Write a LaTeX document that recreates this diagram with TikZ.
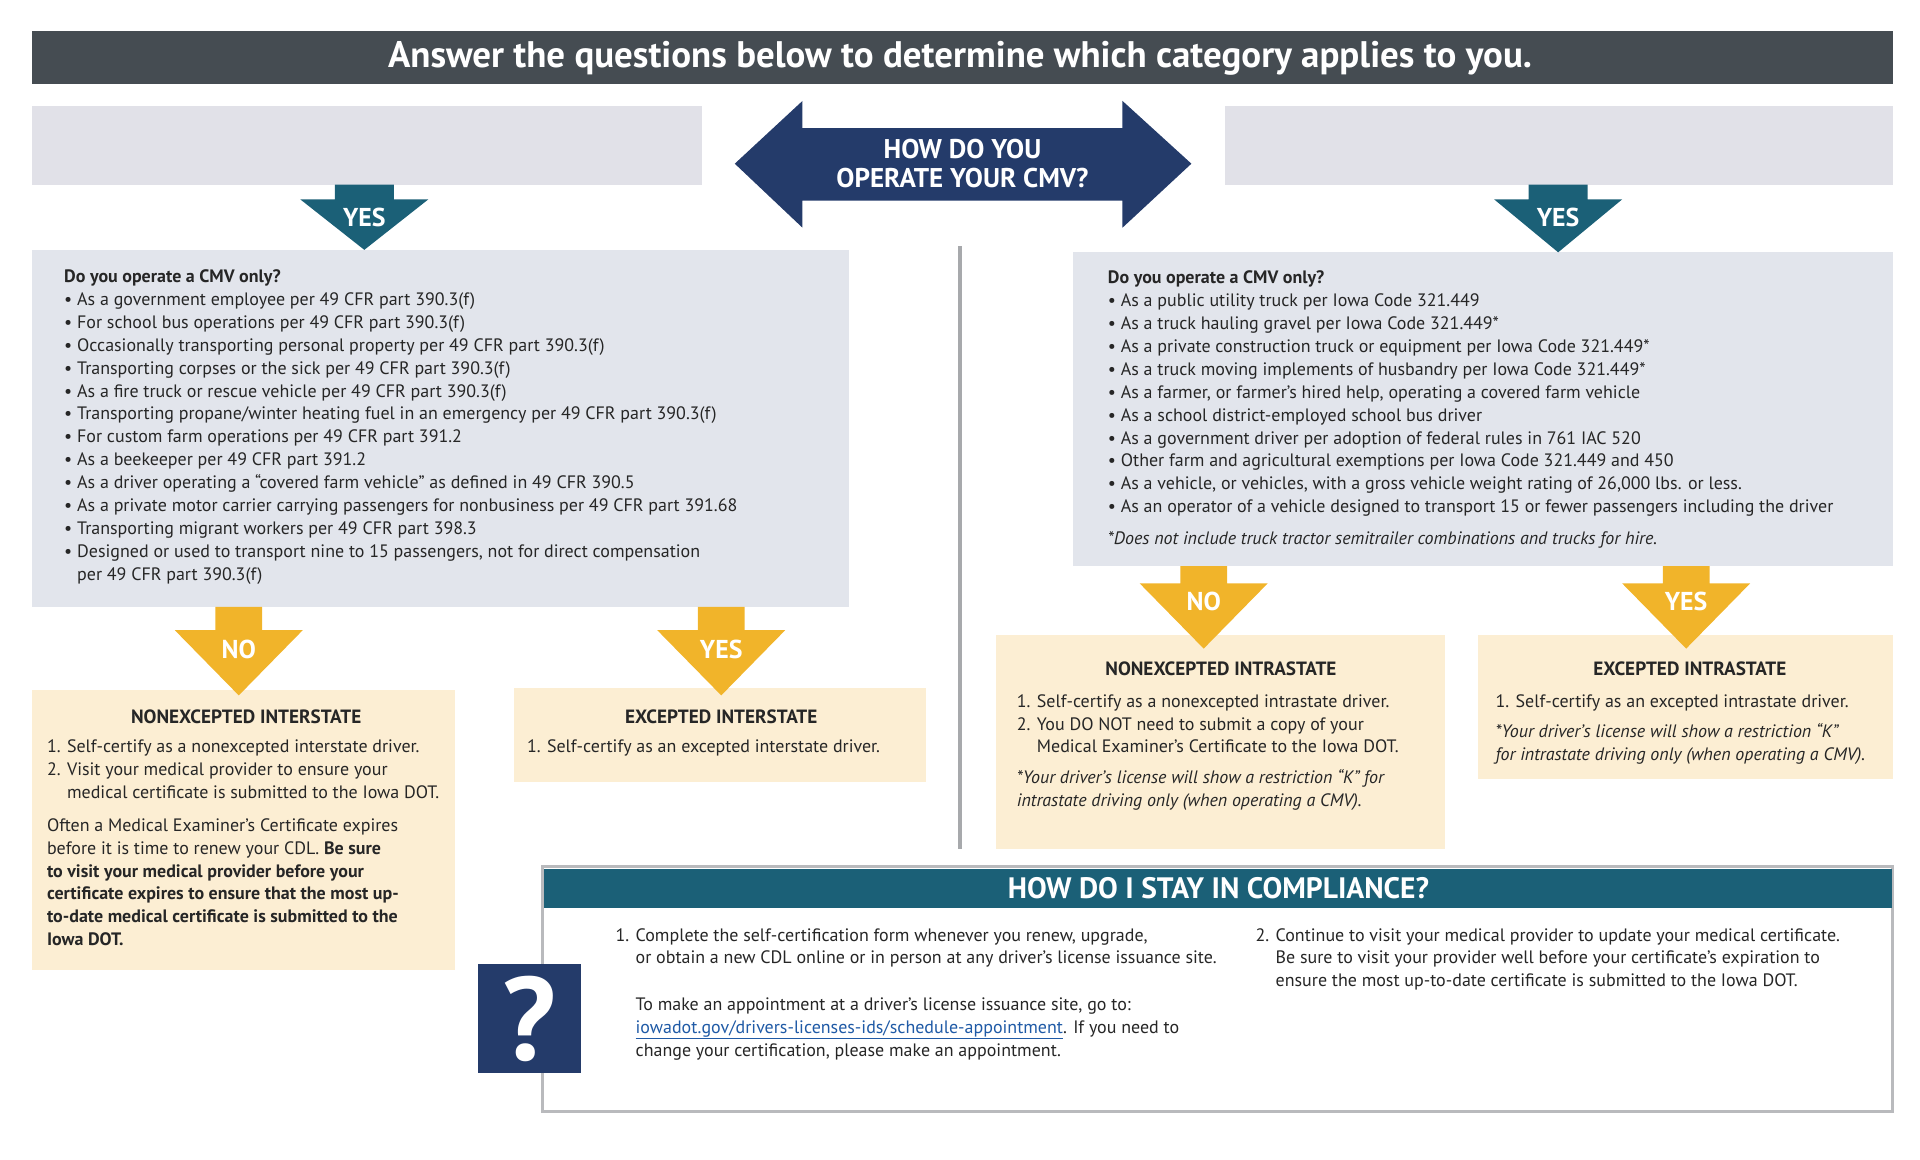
\documentclass[tikz,border=0pt]{standalone}
\usepackage{fontspec}
\setmainfont{PT Sans}
\usepackage{tikz}
\usetikzlibrary{positioning}
\definecolor{barGray}{HTML}{454C52}
\definecolor{navyBlue}{HTML}{243B6A}
\definecolor{tealBlue}{HTML}{1B6077}
\definecolor{mustard}{HTML}{F1B42A}
\definecolor{creamBox}{HTML}{FCEED3}
\definecolor{greyBox}{HTML}{E2E5EC}
\definecolor{topBox}{HTML}{E1E1E8}
\definecolor{sepGray}{HTML}{A7A9AC}
\definecolor{linkBlue}{HTML}{1F5AA6}

\begin{document}
\begin{tikzpicture}[x=1pt, y=-1pt,
  body/.style={anchor=north west, inner sep=0pt, align=left, text=black!85,
    font=\fontsize{14.6}{18.6}\selectfont},
  head/.style={inner sep=0pt, text=black!85, font=\fontsize{15.6}{18}\selectfont\bfseries},
  lbl/.style={inner sep=0pt, text=white, font=\fontsize{21}{24}\selectfont\bfseries},
]

% down arrow: colour, centre x, top y, head y, tip y, shaft half width
\newcommand{\dnarr}[6]{%
  \fill[#1] (#2-#6,#3) -- (#2+#6,#3) -- (#2+#6,#4) -- (#2+52,#4) -- (#2,#5)
    -- (#2-52,#4) -- (#2-#6,#4) -- cycle;}

\useasboundingbox (0,0) rectangle (1560,942);

% title bar
\fill[barGray] (26,25) rectangle (1538,68);
\node[text=white, font=\fontsize{30}{34}\selectfont\bfseries] (title) at (780,47) {Answer the questions below to determine which category applies to you.};

% top boxes
\fill[topBox] (26,86) rectangle (570,150);
\fill[topBox] (995,86) rectangle (1538,150);

% double arrow
\fill[navyBlue] (597,133) -- (652,82) -- (652,104) -- (912,104) -- (912,82) -- (968,133)
  -- (912,185) -- (912,163) -- (652,163) -- (652,185) -- cycle;
\node[lbl, align=center, font=\fontsize{22}{24}\selectfont\bfseries] (howop) at (782,133) {HOW DO YOU\\OPERATE YOUR CMV?};

% question boxes
\fill[greyBox] (26,203) rectangle (690,493);
\fill[greyBox] (872,205) rectangle (1538,460);
\draw[sepGray, line width=2.5pt] (780,200) -- (780,690);

\dnarr{tealBlue}{296}{150}{162}{203}{24}
\dnarr{tealBlue}{1266}{150}{162}{205}{24}
\node[lbl] (yesL) at (296,177) {YES};
\node[lbl] (yesR) at (1266,177) {YES};

\node[body] (qleft) at (52,219) {\textbf{Do you operate a CMV only?}\\
 • As a government employee per 49 CFR part 390.3(f)\\
 • For school bus operations per 49 CFR part 390.3(f)\\
 • Occasionally transporting personal property per 49 CFR part 390.3(f)\\
 • Transporting corpses or the sick per 49 CFR part 390.3(f)\\
 • As a fire truck or rescue vehicle per 49 CFR part 390.3(f)\\
 • Transporting propane/winter heating fuel in an emergency per 49 CFR part 390.3(f)\\
 • For custom farm operations per 49 CFR part 391.2\\
 • As a beekeeper per 49 CFR part 391.2\\
 • As a driver operating a “covered farm vehicle” as defined in 49 CFR 390.5\\
 • As a private motor carrier carrying passengers for nonbusiness per 49 CFR part 391.68\\
 • Transporting migrant workers per 49 CFR part 398.3\\
 • Designed or used to transport nine to 15 passengers, not for direct compensation\\
 \phantom{• }per 49 CFR part 390.3(f)};

\node[body] (qright) at (900,220) {\textbf{Do you operate a CMV only?}\\
 • As a public utility truck per Iowa Code 321.449\\
 • As a truck hauling gravel per Iowa Code 321.449*\\
 • As a private construction truck or equipment per Iowa Code 321.449*\\
 • As a truck moving implements of husbandry per Iowa Code 321.449*\\
 • As a farmer, or farmer’s hired help, operating a covered farm vehicle\\
 • As a school district-employed school bus driver\\
 • As a government driver per adoption of federal rules in 761 IAC 520\\
 • Other farm and agricultural exemptions per Iowa Code 321.449 and 450\\
 • As a vehicle, or vehicles, with a gross vehicle weight rating of 26,000 lbs. or less.\\
 • As an operator of a vehicle designed to transport 15 or fewer passengers including the driver\\[7pt]
 \textit{*Does not include truck tractor semitrailer combinations and trucks for hire.}};

% result boxes
\fill[creamBox] (26,561) rectangle (370,788);
\fill[creamBox] (418,559) rectangle (752,635);
\fill[creamBox] (809,516) rectangle (1174,690);
\fill[creamBox] (1201,516) rectangle (1538,633);

\dnarr{mustard}{194}{493}{512}{565}{19}
\dnarr{mustard}{586}{493}{512}{565}{19}
\dnarr{mustard}{978}{460}{474}{527}{19}
\dnarr{mustard}{1370}{460}{474}{527}{19}
\node[lbl] (noIA) at (194,528) {NO};
\node[lbl] (yesIA) at (586,528) {YES};
\node[lbl] (noIS) at (978,489) {NO};
\node[lbl] (yesIS) at (1370,489) {YES};

\node[head] (nonInter) at (200,582) {NONEXCEPTED INTERSTATE};
\node[body] (nonInterTxt) at (38,601) {1. Self-certify as a nonexcepted interstate driver.\\
 2. Visit your medical provider to ensure your\\
 \phantom{2. }medical certificate is submitted to the Iowa DOT.\\[8pt]
 Often a Medical Examiner’s Certificate expires\\
 before it is time to renew your CDL. \textbf{Be sure}\\
 \textbf{to visit your medical provider before your}\\
 \textbf{certificate expires to ensure that the most up-}\\
 \textbf{to-date medical certificate is submitted to the}\\
 \textbf{Iowa DOT.}};

\node[head] (excInter) at (586,582) {EXCEPTED INTERSTATE};
\node[body] (excInterTxt) at (428,601) {1. Self-certify as an excepted interstate driver.};

\node[head] (nonIntra) at (992,543) {NONEXCEPTED INTRASTATE};
\node[body] (nonIntraTxt) at (826,564) {1. Self-certify as a nonexcepted intrastate driver.\\
 2. You DO NOT need to submit a copy of your\\
 \phantom{2. }Medical Examiner’s Certificate to the Iowa DOT.\\[6pt]
 \textit{*Your driver’s license will show a restriction “K” for}\\
 \textit{intrastate driving only (when operating a CMV).}};

\node[head] (excIntra) at (1373,543) {EXCEPTED INTRASTATE};
\node[body] (excIntraTxt) at (1215,564) {1. Self-certify as an excepted intrastate driver.\\[6pt]
 \textit{*Your driver’s license will show a restriction “K”}\\
 \textit{for intrastate driving only (when operating a CMV).}};

% compliance box
\draw[sepGray!80, line width=2.5pt, fill=white] (441,704) rectangle (1538,903);
\fill[tealBlue] (442,706) rectangle (1537,738);
\node[lbl, font=\fontsize{24}{26}\selectfont\bfseries] (comply) at (990,722) {HOW DO I STAY IN COMPLIANCE?};

\fill[navyBlue] (388,783) rectangle (472,872);
\node[inner sep=0pt, text=white, font=\fontsize{96}{96}\selectfont\bfseries] (qmark) at (430,828) {?};

\node[body] (comp1) at (500,754) {1. Complete the self-certification form whenever you renew, upgrade,\\
 \phantom{1. }or obtain a new CDL online or in person at any driver’s license issuance site.\\[19pt]
 \phantom{1. }To make an appointment at a driver’s license issuance site, go to:\\
 \phantom{1. }{\color{linkBlue}\underline{iowadot.gov/drivers-licenses-ids/schedule-appointment}}. If you need to\\
 \phantom{1. }change your certification, please make an appointment.};
\node[body] (comp2) at (1020,754) {2. Continue to visit your medical provider to update your medical certificate.\\
 \phantom{2. }Be sure to visit your provider well before your certificate’s expiration to\\
 \phantom{2. }ensure the most up-to-date certificate is submitted to the Iowa DOT.};

\end{tikzpicture}
\end{document}
